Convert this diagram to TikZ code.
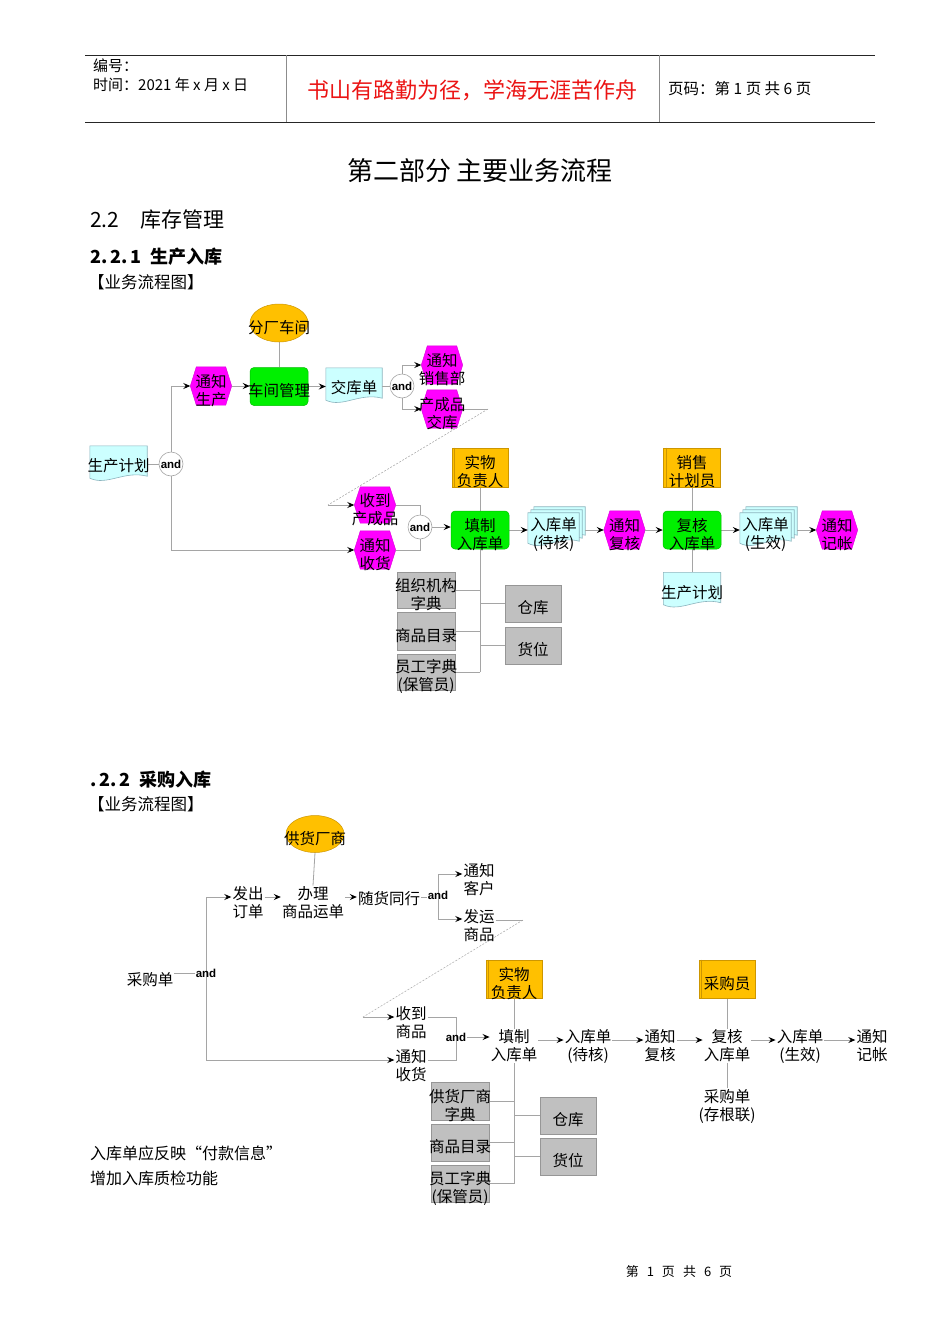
\documentclass[tikz,border=0pt]{standalone}
\usepackage{fontspec}
\setmainfont{Noto Sans CJK SC}
\newfontfamily\andfont{Liberation Sans}
\usetikzlibrary{arrows.meta,calc,shapes.geometric}
\pgfdeclarelayer{back}
\pgfdeclarelayer{bg}
\pgfsetlayers{back,bg,main}
\definecolor{grnc}{RGB}{0,240,0}
\definecolor{grnd}{RGB}{0,190,0}
\definecolor{orgc}{RGB}{255,192,0}
\definecolor{orgd}{RGB}{205,150,0}
\definecolor{magc}{RGB}{255,0,255}
\definecolor{cync}{RGB}{204,255,255}
\definecolor{cynd}{RGB}{140,180,190}
\definecolor{gryc}{RGB}{192,192,192}
\definecolor{gryd}{RGB}{150,150,150}
\definecolor{lnc}{RGB}{165,165,165}
\definecolor{redc}{RGB}{235,20,20}
\newcommand\dtext{\fontsize{15.5pt}{18pt}\selectfont}
\newcommand\andf{\andfont\bfseries\fontsize{11.5pt}{13pt}\selectfont}
\newcommand\zc[2][4.5pt]{\makebox[0pt]{\raisebox{-#1}[\height][\depth]{#2}}}
\newcommand\docpath[3]{\filldraw[docst] ($(#1.north west)+(#2,#3)$) -- ($(#1.north east)+(#2,#3)$) -- ($(#1.south east)+(#2,#3-6)$) .. controls ($(#1.south west)!0.6!(#1.south east)+(#2,#3-12)$) and ($(#1.south west)!0.3!(#1.south east)+(#2,#3+4)$) .. ($(#1.south west)+(#2,#3-4)$) -- cycle;}
\newcommand\hexpath[1]{\filldraw[fill=magc,draw=magc!85!black,line width=0.4pt] (#1.west) -- ([xshift=6pt]#1.north west) -- ([xshift=-6pt]#1.north east) -- (#1.east) -- ([xshift=-6pt]#1.south east) -- ([xshift=6pt]#1.south west) -- cycle;}
\tikzset{
  base/.style={inner sep=0pt, font=\dtext, align=center},
  hexn/.style={base, minimum width=41pt, minimum height=38pt},
  docn/.style={base, minimum width=57pt, minimum height=36pt},
  stk/.style={base, minimum width=51pt, minimum height=33pt},
  grn/.style={base, rounded corners=4pt, fill=grnc, draw=grnd, line width=0.5pt, minimum width=58pt, minimum height=38pt},
  org/.style={base, fill=orgc, draw=orgd, line width=0.6pt, minimum width=56pt, minimum height=39pt},
  gry/.style={base, fill=gryc, draw=gryd, line width=0.6pt, minimum width=58pt, minimum height=37pt},
  ell/.style={base, ellipse, fill=orgc, draw=orgd, line width=0.5pt, minimum width=58pt, minimum height=38pt},
  andc/.style={circle, draw=lnc, fill=white, line width=0.6pt, minimum size=24pt, inner sep=0pt, font=\andf},
  andt/.style={inner sep=1pt, font=\andf},
  txt/.style={base, inner sep=1pt},
  docst/.style={fill=cync, draw=cynd, line width=0.6pt},
  ln/.style={draw=lnc, line width=0.8pt},
  arr/.style={ln, -{Stealth[length=7pt, width=6pt, inset=2.5pt, color=black]}},
  dsh/.style={draw=lnc, line width=0.5pt, dash pattern=on 2pt off 1.5pt},
  rule/.style={draw=black!85, line width=0.9pt},
  sep/.style={draw=black!45, line width=0.8pt}
}
\begin{document}
\begin{tikzpicture}[x=1pt,y=-1pt]
\begin{pgfonlayer}{back}
\fill[white] (0,0) rectangle (950,1344);
\end{pgfonlayer}
\path[use as bounding box] (0,0) rectangle (950,1344);

% ---------- header ----------
\draw[rule] (85,55) -- (875,55);
\draw[rule] (85,122) -- (875,122);
\draw[sep] (286,55) -- (286,122);
\draw[sep] (659,55) -- (659,122);
\node[anchor=west, inner sep=0pt, font=\fontsize{15pt}{17pt}\selectfont] (hno) at (93,66) {编号：};
\node[anchor=west, inner sep=0pt, font=\fontsize{15pt}{17pt}\selectfont] (htime) at (93,85) {时间：2021 年 x 月 x 日};
\node[inner sep=0pt, text=redc, font=\fontsize{22pt}{24pt}\selectfont] (hmotto) at (472,90) {书山有路勤为径，学海无涯苦作舟};
\node[anchor=west, inner sep=0pt, font=\fontsize{15.5pt}{17pt}\selectfont] (hpage) at (668,89) {页码：第 1 页\ 共 6 页};

% ---------- headings ----------
\node[inner sep=0pt, font=\fontsize{26pt}{28pt}\selectfont] (title) at (480,171) {第二部分\ 主要业务流程};
\node[anchor=west, inner sep=0pt, font=\fontsize{21pt}{23pt}\selectfont] (sec) at (90,220) {2.2\quad 库存管理};
\node[anchor=west, inner sep=0pt, font=\bfseries\fontsize{18pt}{20pt}\selectfont] (sub1) at (90,257) {2.\,2.\,1\enspace 生产入库};
\node[anchor=west, inner sep=0pt, font=\fontsize{16.5pt}{18pt}\selectfont] (lab1) at (88,282) {【业务流程图】};
\node[anchor=west, inner sep=0pt, font=\bfseries\fontsize{18pt}{20pt}\selectfont] (sub2) at (90,780) {.\,2.\,2\enspace 采购入库};
\node[anchor=west, inner sep=0pt, font=\fontsize{16.5pt}{18pt}\selectfont] (lab2) at (88,804) {【业务流程图】};

% ---------- diagram 1 nodes ----------
\node[ell] (e1) at (279,323) {\zc{分厂车间}};
\node[grn] (g1) at (279,386.5) {\zc{车间管理}};
\node[hexn] (h1) at (211,386) {\zc{通知}\\\zc{生产}};
\node[docn, minimum width=56pt] (d1) at (354,386) {\zc[2pt]{交库单}};
\node[andc] (a1) at (402,386) {and};
\node[hexn] (h2) at (442,365) {\zc{通知}\\\zc{销售部}};
\node[hexn] (h3) at (442,409) {\zc{产成品}\\\zc{交库}};
\node[docn] (d2) at (118.5,464) {\zc[2pt]{生产计划}};
\node[andc] (a2) at (171,464) {and};
\node[hexn, minimum height=36pt] (h4) at (375,505) {\zc{收到}\\\zc{产成品}};
\node[hexn] (h5) at (375,550) {\zc{通知}\\\zc{收货}};
\node[andc] (a3) at (420,527) {and};
\node[grn] (g2) at (480,530) {\zc{填制}\\\zc{入库单}};
\node[org] (o1) at (480,467.5) {\zc{实物}\\\zc{负责人}};
\node[stk] (s1) at (553.5,530) {\zc{入库单}\\\zc{(待核)}};
\node[hexn] (h6) at (624.5,530) {\zc{通知}\\\zc{复核}};
\node[grn] (g3) at (692,530) {\zc{复核}\\\zc{入库单}};
\node[org, minimum width=57pt] (o2) at (692,467.5) {\zc{销售}\\\zc{计划员}};
\node[docn] (d3) at (692,590.5) {\zc[2.5pt]{生产计划}};
\node[stk] (s2) at (765.5,530) {\zc{入库单}\\\zc{(生效)}};
\node[hexn] (h7) at (837,530) {\zc{通知}\\\zc{记帐}};
\node[gry, minimum height=36pt] (k1) at (426,590) {\zc{组织机构}\\\zc{字典}};
\node[gry, minimum height=38pt] (k2) at (426,631) {\zc{商品目录}};
\node[gry, minimum height=36pt] (k3) at (426,672) {\zc{员工字典}\\\zc{(保管员)}};
\node[gry, minimum width=56pt] (k4) at (533,603.5) {\zc{仓库}};
\node[gry, minimum width=56pt] (k5) at (533,645.5) {\zc{货位}};
\coordinate (c1) at (488,409);
\coordinate (c2) at (328,505);

% ---------- diagram 2 nodes ----------
\node[ell, minimum height=37pt] (e2) at (315,834) {\zc{供货厂商}};
\node[txt] (t0) at (248,903) {发出\\订单};
\node[txt] (t1) at (313,903) {办理\\商品运单};
\node[txt] (t2) at (389,899) {随货同行};
\node[andt] (n1) at (438,895) {and};
\node[txt] (t3) at (479,879.5) {通知\\客户};
\node[txt] (t4) at (479,926) {发运\\商品};
\node[txt] (t5) at (150,980) {采购单};
\node[andt] (n2) at (206,973) {and};
\node[txt] (t6) at (411,1022.5) {收到\\商品};
\node[txt] (t7) at (411,1066) {通知\\收货};
\node[andt] (n3) at (456,1037) {and};
\node[org, minimum height=38pt] (o3) at (514,979) {\zc{实物}\\\zc{负责人}};
\node[txt] (t8) at (514,1046) {填制\\入库单};
\node[txt] (t9) at (588,1046.5) {入库单\\(待核)};
\node[txt] (t10) at (660,1046) {通知\\复核};
\node[org, minimum height=38pt] (o4) at (727,979) {\zc{采购员}};
\node[txt] (t11) at (727,1046) {复核\\入库单};
\node[txt] (t12) at (727,1106) {采购单\\(存根联)};
\node[txt] (t13) at (800,1046.5) {入库单\\(生效)};
\node[txt] (t14) at (872,1046) {通知\\记帐};
\node[gry, minimum height=38pt] (k6) at (460,1101) {\zc{供货厂商}\\\zc{字典}};
\node[gry] (k7) at (460,1142.5) {\zc{商品目录}};
\node[gry] (k8) at (460,1183.5) {\zc{员工字典}\\\zc{(保管员)}};
\node[gry, minimum width=56pt] (k9) at (568,1115.5) {\zc{仓库}};
\node[gry, minimum width=56pt] (k10) at (568,1156.5) {\zc{货位}};
\coordinate (ya) at (0,897);
\coordinate (yb) at (0,1060);
\coordinate (yc) at (0,1017);
\coordinate (yr) at (0,1040);
\coordinate (yt) at (0,874);
\coordinate (yu) at (0,919);
\coordinate (c3) at (523,920);
\coordinate (c4) at (363,1017);

% ---------- notes & footer ----------
\node[anchor=west, inner sep=0pt, font=\fontsize{16pt}{18pt}\selectfont] (note1) at (90,1153) {入库单应反映“付款信息”};
\node[anchor=west, inner sep=0pt, font=\fontsize{16pt}{18pt}\selectfont] (note2) at (90,1178) {增加入库质检功能};
\node[inner sep=0pt, font=\fontsize{13pt}{15pt}\selectfont] (foot) at (679,1272) {第\hspace{8pt}1\hspace{8pt}页\hspace{8pt}共\hspace{8pt}6\hspace{8pt}页};

% orange box inner stripe
\foreach \o in {o1,o2,o3,o4}{\draw[orgd, line width=0.7pt] ([xshift=3pt]\o.north west) -- ([xshift=3pt]\o.south west);}

\begin{pgfonlayer}{bg}
% shapes
\foreach \h in {h1,h2,h3,h4,h5,h6,h7}{\hexpath{\h}}
\docpath{d1}{0}{0}
\docpath{d2}{0}{0}
\docpath{d3}{0}{0}
\docpath{s1}{6}{-6}\docpath{s1}{3}{-3}\docpath{s1}{0}{0}
\docpath{s2}{6}{-6}\docpath{s2}{3}{-3}\docpath{s2}{0}{0}

% diagram 1 connectors
\draw[ln] (e1.south) -- (g1.north);
\draw[arr] (h1.east) -- (h1.east -| g1.west);
\draw[arr] (g1.east) -- (g1.east -| d1.west);
\draw[ln] (d1.east) -- (a1.west);
\draw[arr] (a1.north) |- (h2.west);
\draw[arr] (a1.south) |- (h3.west);
\draw[ln] (h3.east) -- (c1);
\draw[dsh] (c1) -- (c2);
\draw[arr] (c2) -- (h4.west);
\draw[ln] (d2.east) -- (a2.west);
\draw[arr] (a2.north) |- (h1.west);
\draw[arr] (a2.south) |- (h5.west);
\draw[ln] (h4.east) -| (a3.north);
\draw[ln] (h5.east) -| (a3.south);
\draw[arr] (a3.east) -- (a3.east -| g2.west);
\draw[ln] (o1.south) -- (g2.north);
\draw[ln] (g2.south) -- (g2.south |- k3.east);
\foreach \k in {k1,k2,k3}{\draw[ln] (\k.east) -- (\k.east -| g2.south);}
\foreach \k in {k4,k5}{\draw[ln] (g2.south |- \k.west) -- (\k.west);}
\draw[arr] (g2.east) -- (g2.east -| s1.west);
\draw[arr] ([xshift=6pt]s1.east) -- (h6.west);
\draw[arr] (h6.east) -- (h6.east -| g3.west);
\draw[ln] (o2.south) -- (g3.north);
\draw[ln] (g3.south) -- (d3.north);
\draw[arr] (g3.east) -- (g3.east -| s2.west);
\draw[arr] ([xshift=6pt]s2.east) -- (h7.west);

% diagram 2 connectors
\draw[ln] (e2.south) -- (t1.north);
\draw[ln] (t5.east |- n2) -- (n2.west);
\draw[ln] (n2 |- ya) -- (n2 |- yb);
\draw[arr] (n2 |- ya) -- (t0.west |- ya);
\draw[arr] (n2 |- yb) -- (t7.west |- yb);
\draw[arr] (t0.east |- ya) -- (t1.west |- ya);
\draw[arr] (t1.east |- ya) -- (t2.west |- ya);
\draw[ln] (t2.east |- ya) -- (n1.west |- ya);
\draw[ln] (n1 |- yt) -- (n1 |- yu);
\draw[arr] (n1 |- yt) -- (t3.west |- yt);
\draw[arr] (n1 |- yu) -- (t4.west |- yu);
\draw[ln] (t4.east |- c3) -- (c3);
\draw[dsh] (c3) -- (c4);
\draw[arr] (c4) -- (t6.west |- c4);
\draw[ln] (t6.east |- yc) -| (n3 |- yb) -- (t7.east |- yb);
\draw[arr] (n3.east) -- (t8.west |- n3.east);
\draw[ln] (o3.south) -- (t8.north);
\draw[arr] (t8.east |- yr) -- (t9.west |- yr);
\draw[arr] (t9.east |- yr) -- (t10.west |- yr);
\draw[arr] (t10.east |- yr) -- (t11.west |- yr);
\draw[arr] (t11.east |- yr) -- (t13.west |- yr);
\draw[arr] (t13.east |- yr) -- (t14.west |- yr);
\draw[ln] (o4.south) -- (t11.north);
\draw[ln] (t11.south) -- (t12.north);
\draw[ln] (t8.south) -- (t8.south |- k8.east);
\foreach \k in {k6,k7,k8}{\draw[ln] (\k.east) -- (\k.east -| t8.south);}
\foreach \k in {k9,k10}{\draw[ln] (t8.south |- \k.west) -- (\k.west);}
\end{pgfonlayer}
\end{tikzpicture}
\end{document}
